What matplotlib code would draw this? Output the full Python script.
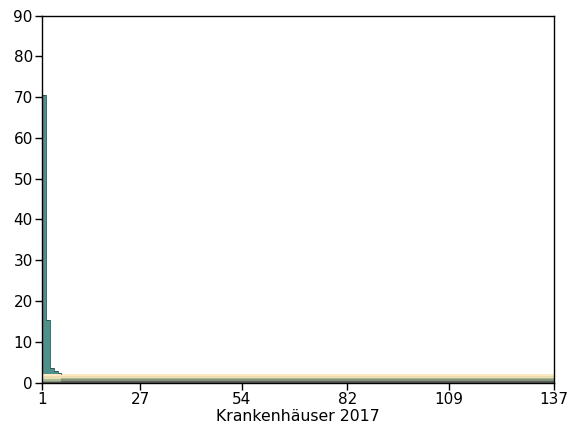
import matplotlib
matplotlib.use("Agg")
import matplotlib.pyplot as plt
import numpy as np

# step boundaries (x) and per-segment values for each stacked series
x_edges = [1, 2, 3, 4, 5, 6, 137]
layer_dark = [0.2, 0.2, 0.2, 0.2, 0.2, 0.35]
layer_graygreen = [0.2, 0.2, 0.2, 0.2, 0.2, 0.4]
layer_green = [0.4, 0.4, 0.4, 0.4, 0.4, 0.4]
layer_tan = [0.9, 0.9, 0.9, 0.9, 0.9, 0.4]
layer_yellow = [0.3, 0.3, 0.3, 0.3, 0.3, 0.45]
layer_teal = [68.5, 13.3, 1.5, 0.8, 0.3, 0.0]

series = [layer_dark, layer_graygreen, layer_green, layer_tan, layer_yellow, layer_teal]
colors = ["#5a5d55", "#84927a", "#a9bc95", "#ecdcb2", "#fde9c2", "#4d918c"]

xticks = [1, 27, 54, 82, 109, 137]
yticks = [0, 10, 20, 30, 40, 50, 60, 70, 80, 90]
xlabel = "Krankenhäuser 2017"

fig = plt.figure(figsize=(5.71, 4.36), dpi=100)
ax = fig.add_axes([0.0744, 0.1227, 0.8958, 0.8417])

xs = np.array(x_edges, dtype=float)
base = np.zeros(len(x_edges) - 1)
for vals, c in zip(series, colors):
    v = np.array(vals, dtype=float)
    top = base + v
    b_ext = np.append(base, base[-1])
    t_ext = np.append(top, top[-1])
    ax.fill_between(xs, b_ext, t_ext, step="post", facecolor=c, edgecolor="none", linewidth=0)
    if c == "#4d918c":
        n = int(np.sum(v > 0))
        ax.step(xs[:n + 1], np.append(top[:n], b_ext[n]), where="post",
                color="#2f4f4c", linewidth=0.6)
    base = top

ax.set_xlim(1, 137)
ax.set_ylim(0, 90)
ax.set_xticks(xticks)
ax.set_yticks(yticks)
ax.tick_params(direction="out", length=5, width=1, labelsize=11, colors="black", pad=2)
for s in ax.spines.values():
    s.set_color("black")
    s.set_linewidth(1)
ax.set_xlabel(xlabel, fontsize=11.3, labelpad=1.5)

fig.savefig("out.png", dpi=100)
